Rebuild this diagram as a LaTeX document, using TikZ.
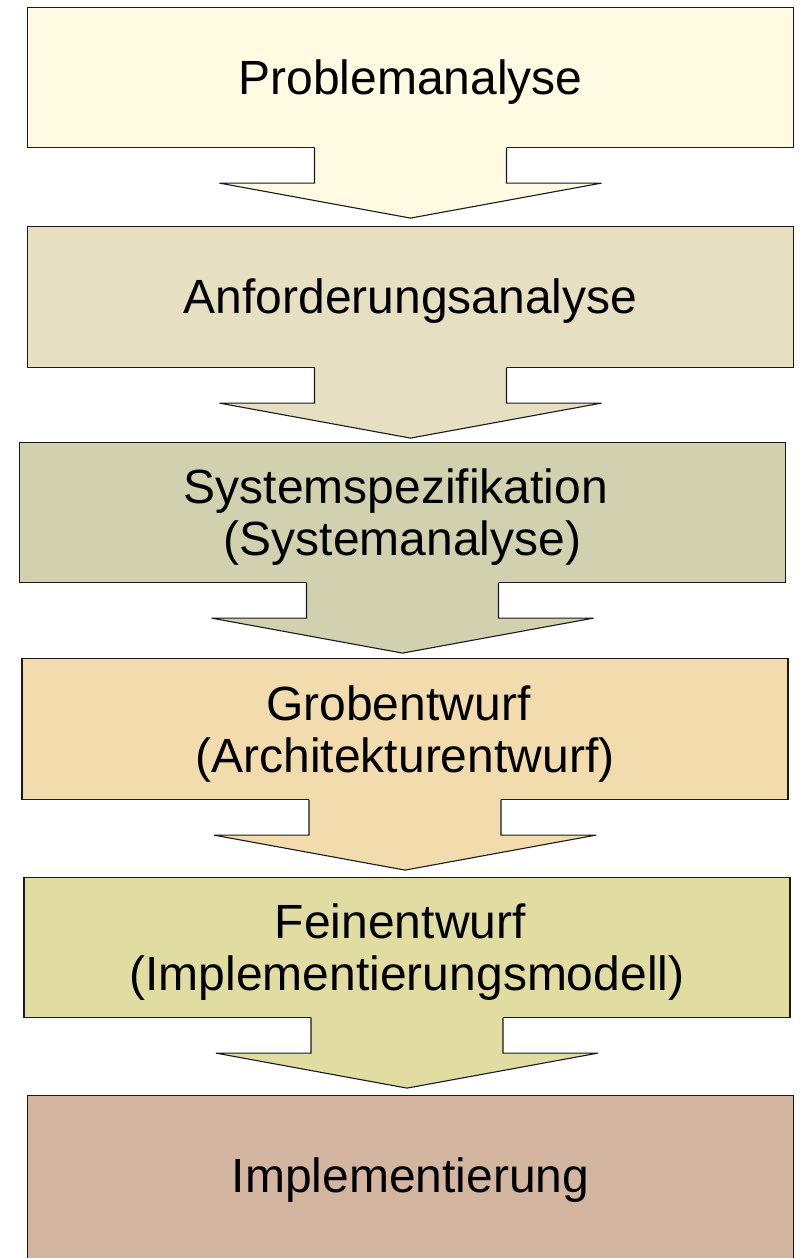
\documentclass[tikz,border=0pt]{standalone}
\usepackage{fontspec}
\setmainfont{Liberation Sans}
\usetikzlibrary{calc}
\definecolor{cA}{HTML}{FFFAE1}
\definecolor{cB}{HTML}{E6DFC2}
\definecolor{cC}{HTML}{D1D1AF}
\definecolor{cD}{HTML}{F2DCAD}
\definecolor{cE}{HTML}{E0DCA2}
\definecolor{cF}{HTML}{D3B5A0}
\definecolor{edge}{HTML}{1A1A1A}
\tikzset{
  box/.style={draw=edge, line width=1.1pt, minimum width=766pt, minimum height=140pt,
              inner sep=0pt, anchor=north, shape=rectangle},
  lbl/.style={anchor=base, inner sep=0pt, font=\fontsize{48}{52}\selectfont},
  arrline/.style={draw=edge, line width=1.1pt, line join=miter},
}
\newcommand\blockarr[2]{%
  \begin{scope}[shift={(#1.south)}]
    \fill[#2] (-96,-1) -- (-96,35) -- (-191,35) -- (0,70) -- (191,35) -- (96,35) -- (96,-1) -- cycle;
    \draw[arrline] (-96,-0.55) -- (-96,35) -- (-191,35) -- (0,70) -- (191,35) -- (96,35) -- (96,-0.55);
  \end{scope}}
\begin{document}
\begin{tikzpicture}[x=1pt,y=-1pt]
\useasboundingbox (0,0) rectangle (800,1258);
% boxes
\node[box, fill=cA] (b1) at (410.5,7) {};
\node[box, fill=cB, minimum height=141pt] (b2) at (410.5,226) {};
\node[box, fill=cC] (b3) at (402.5,442) {};
\node[box, fill=cD, minimum height=141pt] (b4) at (405,658) {};
\node[box, fill=cE] (b5) at (407,877) {};
\node[box, fill=cF, minimum height=170pt] (b6) at (410.5,1095) {};
% block arrows
\blockarr{b1}{cA}
\blockarr{b2}{cB}
\blockarr{b3}{cC}
\blockarr{b4}{cD}
\blockarr{b5}{cE}
% labels
\node[lbl] (t1) at ($(b1.center)+(0,17)$) {Problemanalyse};
\node[lbl] (t2) at ($(b2.center)+(0,16.5)$) {Anforderungsanalyse};
\node[lbl] (t3) at ($(b3.center)+(0,-9)$) {\begin{tabular}[t]{@{}c@{}}Systemspezifikation\kern.278em\\(Systemanalyse)\end{tabular}};
\node[lbl] (t4) at ($(b4.center)+(0,-9)$) {\begin{tabular}[t]{@{}c@{}}Grobentwurf\kern.278em\\(Architekturentwurf)\end{tabular}};
\node[lbl] (t5) at ($(b5.center)+(0,-9)$) {\begin{tabular}[t]{@{}c@{}}Feinentwurf\kern.278em\\(Implementierungsmodell)\end{tabular}};
\node[lbl] (t6) at ($(b6.north)+(0,97)$) {Implementierung};
\end{tikzpicture}
\end{document}
